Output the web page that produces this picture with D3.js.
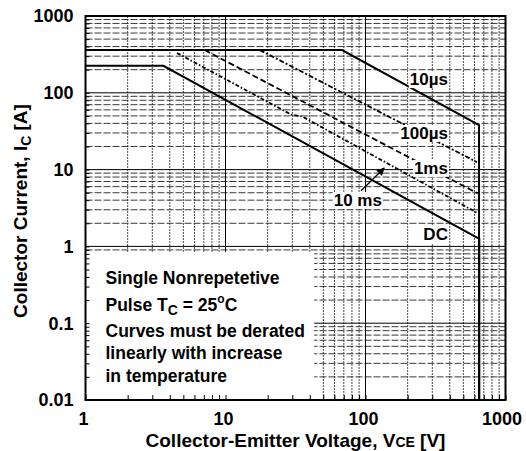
<!DOCTYPE html>
<html>
<head>
<meta charset="utf-8">
<script src="https://cdn.jsdelivr.net/npm/d3@7"></script>
<style>
  body { margin: 0; background: #fff; }
  text { font-family: "Liberation Sans", Arial, sans-serif; font-weight: bold; fill: #000; }
</style>
</head>
<body>
<div id="chart"></div>
<script>
// tick values / labels
const xTicks = [1, 10, 100, 1000];
const xTickLabels = ["1", "10", "100", "1000"];
const yTicks = [0.01, 0.1, 1, 10, 100, 1000];
const yTickLabels = ["0.01", "0.1", "1", "10", "100", "1000"];

// SOA curves (V, A)
const dcV = [1, 3.6, 650, 650];
const dcI = [225, 225, 1.25, 0.01];
const us10V = [1, 68, 647, 647];
const us10I = [360, 360, 38, 0.01];
const us100V = [17.6, 625];
const us100I = [360, 12.5];
const ms1V = [7.1, 633];
const ms1I = [360, 4.9];
const ms10V = [4.5, 29.5, 35.5, 635];
const ms10I = [330, 52, 49, 2.7];

// curve names and where they are written (V, A)
const curveNames = ["10\u00b5s", "100\u00b5s", "1ms", "DC"];
const nameV = [388, 388, 388, 388];
const nameI = [126, 25, 8.8, 1.21];
const arrowV = [93, 136];
const arrowI = [5.3, 10.5];

const margin = { top: 16, right: 20.5, bottom: 51, left: 85.5 };
const W = 526, H = 451;
const width = W - margin.left - margin.right;
const height = H - margin.top - margin.bottom;

const svg = d3.select("#chart").append("svg")
    .attr("width", W).attr("height", H);
svg.append("rect").attr("width", W).attr("height", H).attr("fill", "#fff");

const g = svg.append("g")
    .attr("transform", "translate(" + margin.left + "," + margin.top + ")");

const x = d3.scaleLog().domain([1, 1000]).range([0, width]);
const y = d3.scaleLog().domain([0.01, 1000]).range([height, 0]);

// all 1..9 ticks per decade
const xAll = x.ticks();
const yAll = y.ticks();
const isDecade = d => Math.abs(Math.log10(d) - Math.round(Math.log10(d))) < 1e-9;

// minor grid
g.append("g").selectAll("line")
    .data(xAll.filter(d => !isDecade(d)))
    .enter().append("line")
    .attr("x1", d => x(d)).attr("x2", d => x(d))
    .attr("y1", 0).attr("y2", height)
    .attr("stroke", "#333").attr("stroke-width", 0.9)
    .attr("stroke-dasharray", "2,1");
g.append("g").selectAll("line")
    .data(yAll.filter(d => !isDecade(d)))
    .enter().append("line")
    .attr("x1", 0).attr("x2", width)
    .attr("y1", d => y(d)).attr("y2", d => y(d))
    .attr("stroke", "#222").attr("stroke-width", 0.9)
    .attr("stroke-dasharray", "7,2");

// major grid
g.append("g").selectAll("line")
    .data(xTicks)
    .enter().append("line")
    .attr("x1", d => x(d)).attr("x2", d => x(d))
    .attr("y1", 0).attr("y2", height)
    .attr("stroke", "#000").attr("stroke-width", 1);
g.append("g").selectAll("line")
    .data(yTicks)
    .enter().append("line")
    .attr("x1", 0).attr("x2", width)
    .attr("y1", d => y(d)).attr("y2", d => y(d))
    .attr("stroke", "#000").attr("stroke-width", 1);

// white box for the note
g.append("rect")
    .attr("x", x(1)).attr("y", y(0.85))
    .attr("width", x(43) - x(1)).attr("height", y(0.01) - y(0.85))
    .attr("fill", "#fff");

// inner ticks
const xAxis = d3.axisBottom(x).tickValues(xAll).tickSize(-5).tickFormat("");
const yAxis = d3.axisLeft(y).tickValues(yAll).tickSize(-4).tickFormat("");
g.append("g").attr("transform", "translate(0," + height + ")").call(xAxis)
    .call(s => s.select(".domain").remove());
g.append("g").call(yAxis).call(s => s.select(".domain").remove());

// tick labels
g.append("g").selectAll("text")
    .data(xTicks)
    .enter().append("text")
    .attr("x", d => Math.min(x(d) - 2, W - margin.left - 24))
    .attr("y", height + 25)
    .attr("text-anchor", "middle")
    .style("font-size", "18px")
    .text((d, i) => xTickLabels[i]);
g.append("g").selectAll("text")
    .data(yTicks)
    .enter().append("text")
    .attr("x", -12).attr("y", d => y(d))
    .attr("dy", "0.36em")
    .attr("text-anchor", "end")
    .style("font-size", "18px")
    .text((d, i) => yTickLabels[i]);

// curves
const line = d3.line().x(d => x(d[0])).y(d => y(d[1]));
const curves = [
    { v: us10V, i: us10I, dash: null, w: 2 },
    { v: dcV, i: dcI, dash: null, w: 2 },
    { v: us100V, i: us100I, dash: "5,2,2,2", w: 1.8 },
    { v: ms1V, i: ms1I, dash: "6,3", w: 1.8 },
    { v: ms10V, i: ms10I, dash: "4,2,1.5,2", w: 1.8 }
];
curves.forEach(function (c) {
    g.append("path")
        .datum(c.v.map((v, k) => [v, c.i[k]]))
        .attr("d", line)
        .attr("fill", "none")
        .attr("stroke", "#000")
        .attr("stroke-width", c.w)
        .attr("stroke-dasharray", c.dash);
});

// curve labels with white background
function boxedText(tx, ty, str, anchor) {
    const t = g.append("text")
        .attr("x", tx).attr("y", ty)
        .attr("text-anchor", anchor)
        .style("font-size", "17px")
        .text(str);
    const b = t.node().getBBox();
    g.insert("rect", function () { return t.node(); })
        .attr("x", b.x - 1).attr("y", b.y + 1)
        .attr("width", b.width + 2).attr("height", b.height - 2)
        .attr("fill", "#fff");
}
curveNames.forEach((n, k) => boxedText(x(nameV[k]), y(nameI[k]), n, "end"));
boxedText(x(131), y(3.36), "10 ms", "end");

// arrow
svg.append("defs").append("marker")
    .attr("id", "head")
    .attr("viewBox", "0 0 10 10")
    .attr("refX", 9).attr("refY", 5)
    .attr("markerWidth", 9).attr("markerHeight", 8)
    .attr("markerUnits", "userSpaceOnUse")
    .attr("orient", "auto")
    .append("path").attr("d", "M0,0 L10,5 L0,10 z").attr("fill", "#000");
g.append("line")
    .attr("x1", x(arrowV[0])).attr("y1", y(arrowI[0]))
    .attr("x2", x(arrowV[1])).attr("y2", y(arrowI[1]))
    .attr("stroke", "#000").attr("stroke-width", 1.2)
    .attr("marker-end", "url(#head)");

// frame
g.append("rect")
    .attr("width", width).attr("height", height)
    .attr("fill", "none").attr("stroke", "#000").attr("stroke-width", 2);

// note text
const note = g.append("g").style("font-size", "17.5px");
note.append("text").attr("x", 20).attr("y", 268).text("Single Nonrepetetive");
const p = note.append("text").attr("x", 20).attr("y", 295);
p.append("tspan").text("Pulse T");
p.append("tspan").attr("dy", 4).style("font-size", "14px").text("C");
p.append("tspan").attr("dy", -4).text(" = 25");
p.append("tspan").attr("dy", -8).style("font-size", "12px").text("o");
p.append("tspan").attr("dy", 8).text("C");
note.append("text").attr("x", 20).attr("y", 321).text("Curves must be derated");
note.append("text").attr("x", 20).attr("y", 343).text("linearly with increase");
note.append("text").attr("x", 20).attr("y", 366).text("in temperature");

// axis titles
const xt = svg.append("text")
    .attr("x", margin.left + width / 2).attr("y", 447)
    .attr("text-anchor", "middle")
    .style("font-size", "19px");
xt.append("tspan").text("Collector-Emitter Voltage, V");
xt.append("tspan").style("font-size", "14px").text("CE");
xt.append("tspan").text(" [V]");

const yt = svg.append("text")
    .attr("transform", "translate(27," + (margin.top + height / 2 + 3) + ") rotate(-90)")
    .attr("text-anchor", "middle")
    .style("font-size", "19px");
yt.append("tspan").text("Collector Current, I");
yt.append("tspan").attr("dy", 4).style("font-size", "14px").text("C");
yt.append("tspan").attr("dy", -4).text(" [A]");
</script>
</body>
</html>
